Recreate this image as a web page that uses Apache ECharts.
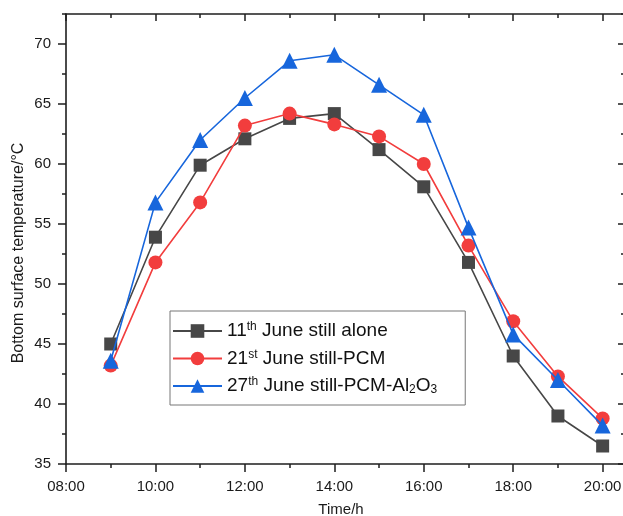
<!DOCTYPE html>
<html>
<head>
<meta charset="utf-8">
<script src="https://cdn.jsdelivr.net/npm/echarts@6/dist/echarts.min.js"></script>
<style>
  html, body { margin: 0; padding: 0; background: #fff; overflow: hidden; }
  #chart { width: 623px; height: 516px; }
</style>
</head>
<body>
<div id="chart"></div>
<script>
// Hour of day for each reading
const hours = [9, 10, 11, 12, 13, 14, 15, 16, 17, 18, 19, 20];

// Bottom surface temperature (°C)
const stillAlone    = [45.0, 53.9, 59.9, 62.1, 63.8, 64.2, 61.2, 58.1, 51.8, 44.0, 39.0, 36.5];
const stillPCM      = [43.2, 51.8, 56.8, 63.2, 64.2, 63.3, 62.3, 60.0, 53.2, 46.9, 42.3, 38.8];
const stillPCMAl2O3 = [43.6, 56.8, 62.0, 65.5, 68.6, 69.1, 66.6, 64.1, 54.7, 45.8, 42.0, 38.2];

// Tick positions
const xTicks = [8, 10, 12, 14, 16, 18, 20];
const yTicks = [35, 40, 45, 50, 55, 60, 65, 70];

const seriesNames = ['11th June still alone', '21st June still-PCM', '27th June still-PCM-Al2O3'];
const legendLabels = [
  '{t|11}{sup|th}{t| June still alone}',
  '{t|21}{sup|st}{t| June still-PCM}',
  '{t|27}{sup|th}{t| June still-PCM-Al}{sub|2}{t|O}{sub|3}'
];

const AXIS_COLOR = '#1e1e1e';
const X_MIN = 8, X_MAX = 20.5, Y_MIN = 35, Y_MAX = 72.5;

function pairs(values) {
  return hours.map((h, i) => [h, values[i]]);
}

function hourLabel(v) {
  return (v < 10 ? '0' : '') + v + ':00';
}

function xAxisPart(position, interval, opts) {
  return Object.assign({
    type: 'value', position, min: X_MIN, max: X_MAX, interval,
    splitLine: { show: false },
    axisLine: { show: false, onZero: false, lineStyle: { color: AXIS_COLOR, width: 1.6 } },
    axisTick: { show: true, lineStyle: { color: AXIS_COLOR, width: 1.5 } },
    axisLabel: { show: false }
  }, opts);
}

function yAxisPart(position, interval, opts) {
  return Object.assign({
    type: 'value', position, min: Y_MIN, max: Y_MAX, interval,
    splitLine: { show: false },
    axisLine: { show: false, onZero: false, lineStyle: { color: AXIS_COLOR, width: 1.6 } },
    axisTick: { show: true, lineStyle: { color: AXIS_COLOR, width: 1.5 } },
    axisLabel: { show: false }
  }, opts);
}

const chart = echarts.init(document.getElementById('chart'), null, { renderer: 'canvas' });

const lineStyles = [
  { color: '#474747', symbol: 'rect', size: 13 },
  { color: '#f23d3d', symbol: 'circle', size: 14 },
  { color: '#1766dc', symbol: 'triangle', size: 16 }
];
const seriesValues = [stillAlone, stillPCM, stillPCMAl2O3];

chart.setOption({
  animation: false,
  backgroundColor: '#fff',
  textStyle: { fontFamily: 'Liberation Sans, Arial, sans-serif' },
  // the right-hand frame line falls just outside the canvas
  grid: { left: 66, top: 14, width: 559, height: 450, containLabel: false, outerBoundsMode: 'none' },
  xAxis: [
    xAxisPart('bottom', 2, {
      axisLine: { show: true, onZero: false, lineStyle: { color: AXIS_COLOR, width: 1.6 } },
      axisTick: { show: true, length: 8, customValues: xTicks, lineStyle: { color: AXIS_COLOR, width: 1.5 } },
      axisLabel: { show: true, customValues: xTicks, formatter: hourLabel, fontSize: 15, color: '#1a1a1a', margin: 15 },
      name: 'Time/h', nameLocation: 'middle', nameGap: 38,
      nameTextStyle: { fontSize: 15, color: '#1a1a1a', padding: [0, 9, 0, 0] }
    }),
    xAxisPart('bottom', 1, { axisTick: { show: true, length: 4, lineStyle: { color: AXIS_COLOR, width: 1.5 } } }),
    xAxisPart('top', 2, {
      axisLine: { show: true, onZero: false, lineStyle: { color: AXIS_COLOR, width: 1.6 } },
      axisTick: { show: true, inside: true, length: 7, customValues: xTicks, lineStyle: { color: AXIS_COLOR, width: 1.5 } }
    }),
    xAxisPart('top', 1, { axisTick: { show: true, inside: true, length: 4, lineStyle: { color: AXIS_COLOR, width: 1.5 } } })
  ],
  yAxis: [
    yAxisPart('left', 5, {
      axisLine: { show: true, onZero: false, lineStyle: { color: AXIS_COLOR, width: 1.6 } },
      axisTick: { show: true, length: 8, customValues: yTicks, lineStyle: { color: AXIS_COLOR, width: 1.5 } },
      axisLabel: { show: true, customValues: yTicks, fontSize: 15, color: '#1a1a1a', margin: 15 },
      name: 'Bottom surface temperature/°C', nameLocation: 'middle', nameGap: 39,
      nameMoveOverlap: false,
      nameTextStyle: { fontSize: 16, color: '#1a1a1a', padding: [0, 28, 0, 0] }
    }),
    yAxisPart('left', 2.5, { axisTick: { show: true, length: 4, lineStyle: { color: AXIS_COLOR, width: 1.5 } } }),
    yAxisPart('right', 5, {
      axisLine: { show: true, onZero: false, lineStyle: { color: AXIS_COLOR, width: 1.6 } },
      axisTick: { show: true, inside: true, length: 7, customValues: yTicks, lineStyle: { color: AXIS_COLOR, width: 1.5 } }
    }),
    yAxisPart('right', 2.5, { axisTick: { show: true, inside: true, length: 4, lineStyle: { color: AXIS_COLOR, width: 1.5 } } })
  ],
  legend: {
    orient: 'vertical',
    left: 170, top: 311,
    data: seriesNames,
    itemWidth: 49, itemHeight: 17, itemGap: 8,
    padding: [10, 28, 9, 2],
    borderColor: '#777', borderWidth: 1, backgroundColor: '#fff',
    formatter: name => legendLabels[seriesNames.indexOf(name)],
    textStyle: {
      color: '#111',
      rich: {
        t: { fontSize: 19, lineHeight: 20, color: '#111' },
        sup: { fontSize: 12, lineHeight: 14, verticalAlign: 'top', color: '#111' },
        sub: { fontSize: 12, lineHeight: 12, verticalAlign: 'bottom', color: '#111' }
      }
    }
  },
  series: seriesValues.map((vals, i) => ({
    name: seriesNames[i],
    type: 'line',
    xAxisIndex: 0, yAxisIndex: 0,
    data: pairs(vals),
    symbol: lineStyles[i].symbol,
    symbolSize: lineStyles[i].size,
    color: lineStyles[i].color,
    lineStyle: { color: lineStyles[i].color, width: 1.6 },
    itemStyle: { color: lineStyles[i].color },
    z: 2 + i
  }))
});
</script>
</body>
</html>
